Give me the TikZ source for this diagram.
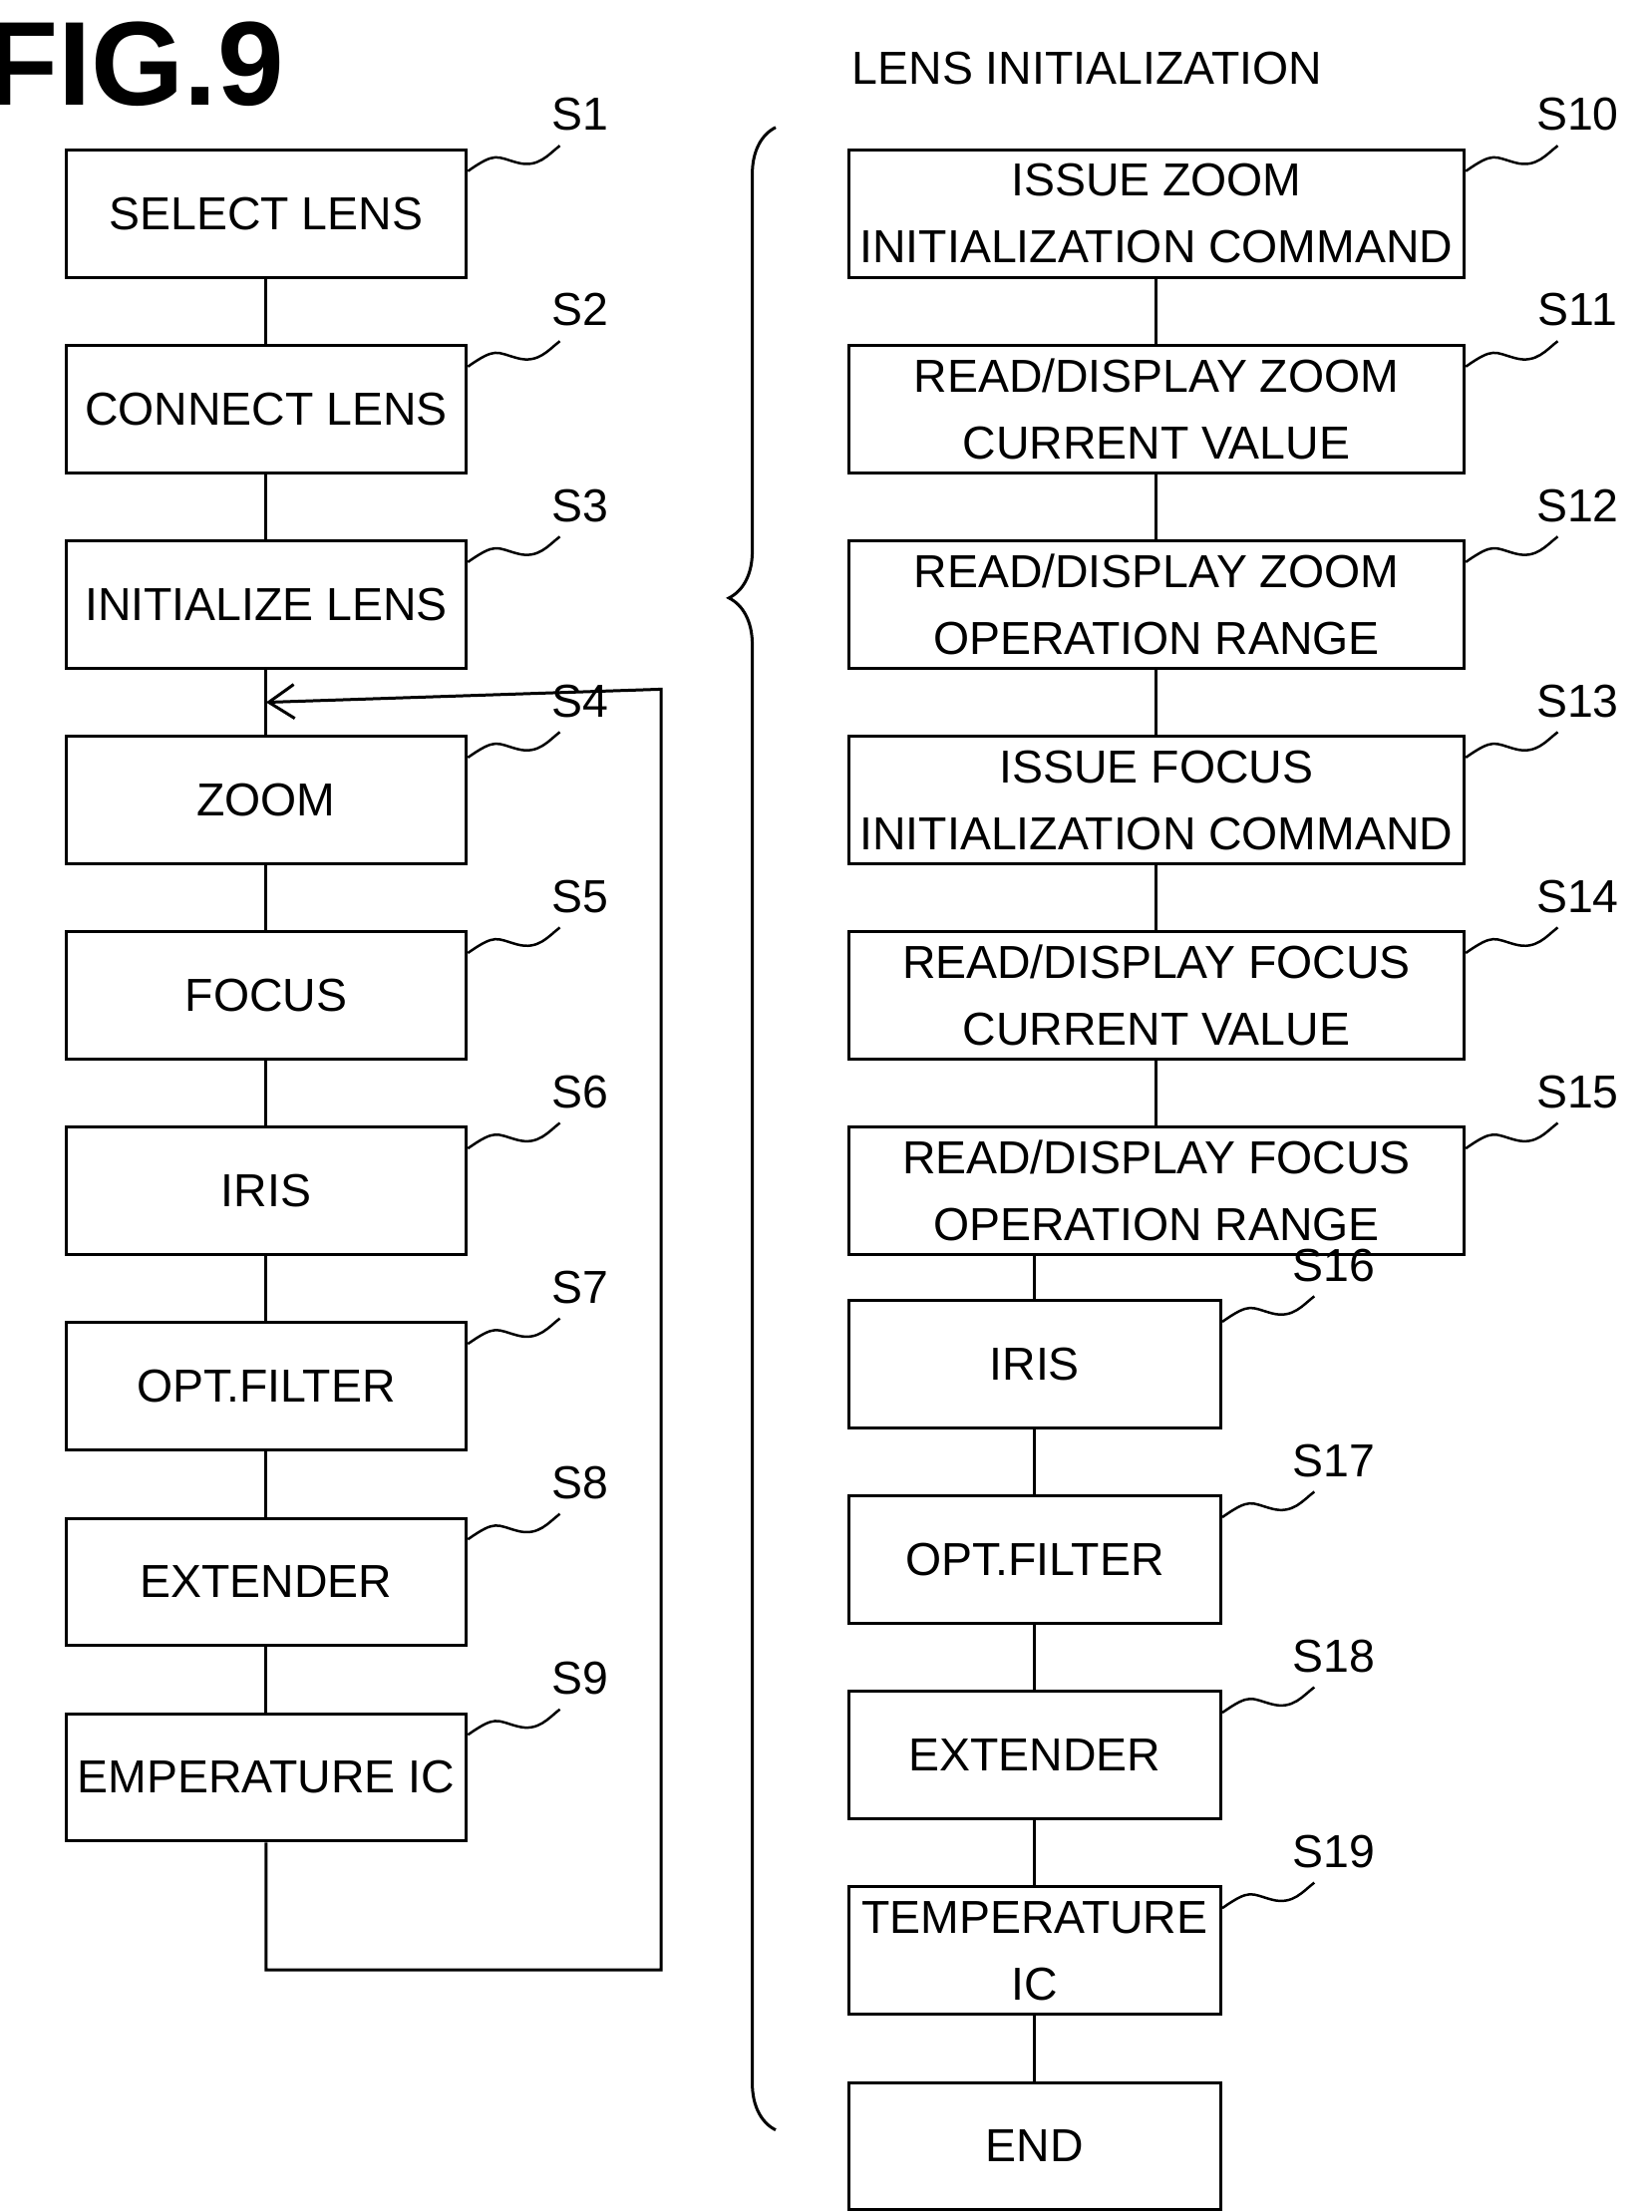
\documentclass[tikz,border=0pt]{standalone}
\usepackage{fontspec}
\setmainfont{Liberation Sans}
\usetikzlibrary{positioning,arrows.meta,decorations.pathreplacing,calc}
\begin{document}
\begin{tikzpicture}[x=0.1mm,y=-0.1mm,
    stepbox/.style={draw,line width=0.6pt,minimum height=9mm,align=center,font=\fontsize{9.3}{13.4}\selectfont,inner sep=0pt},
    narrow/.style={stepbox,minimum width=28.3mm},
    wide/.style={stepbox,minimum width=43.5mm},
    mid/.style={stepbox,minimum width=26.3mm},
    steplabel/.style={font=\fontsize{9.3}{11}\selectfont},
    link/.style={line width=0.6pt}]
\useasboundingbox (0,0) rectangle (1167,1563);
\node[font=\fontsize{24}{24}\selectfont\bfseries] at (95,45) {FIG.9};
\node[font=\fontsize{9.3}{11}\selectfont] at (768,48) {LENS INITIALIZATION};
% left column
\node[narrow] (s1) at (188,151) {SELECT LENS};
\node[narrow,below=4.6mm of s1] (s2) {CONNECT LENS};
\node[narrow,below=4.6mm of s2] (s3) {INITIALIZE LENS};
\node[narrow,below=4.6mm of s3] (s4) {ZOOM};
\node[narrow,below=4.6mm of s4] (s5) {FOCUS};
\node[narrow,below=4.6mm of s5] (s6) {IRIS};
\node[narrow,below=4.6mm of s6] (s7) {OPT.FILTER};
\node[narrow,below=4.6mm of s7] (s8) {EXTENDER};
\node[narrow,below=4.6mm of s8] (s9) {EMPERATURE IC};
% right column
\node[wide] (s10) at (817,151) {ISSUE ZOOM\\INITIALIZATION COMMAND};
\node[wide,below=4.6mm of s10] (s11) {READ/DISPLAY ZOOM\\CURRENT VALUE};
\node[wide,below=4.6mm of s11] (s12) {READ/DISPLAY ZOOM\\OPERATION RANGE};
\node[wide,below=4.6mm of s12] (s13) {ISSUE FOCUS\\INITIALIZATION COMMAND};
\node[wide,below=4.6mm of s13] (s14) {READ/DISPLAY FOCUS\\CURRENT VALUE};
\node[wide,below=4.6mm of s14] (s15) {READ/DISPLAY FOCUS\\OPERATION RANGE};
\node[mid] (s16) at (731,964) {IRIS};
\node[mid,below=4.6mm of s16] (s17) {OPT.FILTER};
\node[mid,below=4.6mm of s17] (s18) {EXTENDER};
\node[mid,below=4.6mm of s18] (s19) {TEMPERATURE\\IC};
\node[mid,below=4.6mm of s19] (end) {END};
% connectors
\foreach \a/\b in {s1/s2,s2/s3,s4/s5,s5/s6,s6/s7,s7/s8,s8/s9,s10/s11,s11/s12,s12/s13,s13/s14,s14/s15,s16/s17,s17/s18,s18/s19,s19/end}
  \draw[link] (\a) -- (\b);
\draw[link] (s15.south -| s16) -- (s16);
\coordinate (merge) at ($(s3.south)!0.5!(s4.north)$);
\draw[link] (s3) -- (s4);
\draw[link,-{Straight Barb[length=1.8mm,width=2.4mm]}] (s9.south) -- ++(0,90) -| (467,487) -- (merge);
% brace
\draw[line width=0.6pt,decorate,decoration={brace,amplitude=3.3mm,aspect=0.765}] (548,1505) -- (548,90);
% step labels
\foreach \n/\t in {s1/S1,s2/S2,s3/S3,s4/S4,s5/S5,s6/S6,s7/S7,s8/S8,s9/S9,s10/S10,s11/S11,s12/S12,s13/S13,s14/S14,s15/S15,s16/S16,s17/S17,s18/S18,s19/S19}{
  \draw[line width=0.5pt] ($(\n.north east)+(0,16)$) .. controls +(20,-14) and +(-15,-4) .. ++(35,-6) .. controls +(15,4) and +(-8,6) .. ++(30,-12) coordinate (\n tip);
  \node[steplabel,anchor=south] at ($(\n tip)+(14,2)$) {\t};
}
\end{tikzpicture}
\end{document}
